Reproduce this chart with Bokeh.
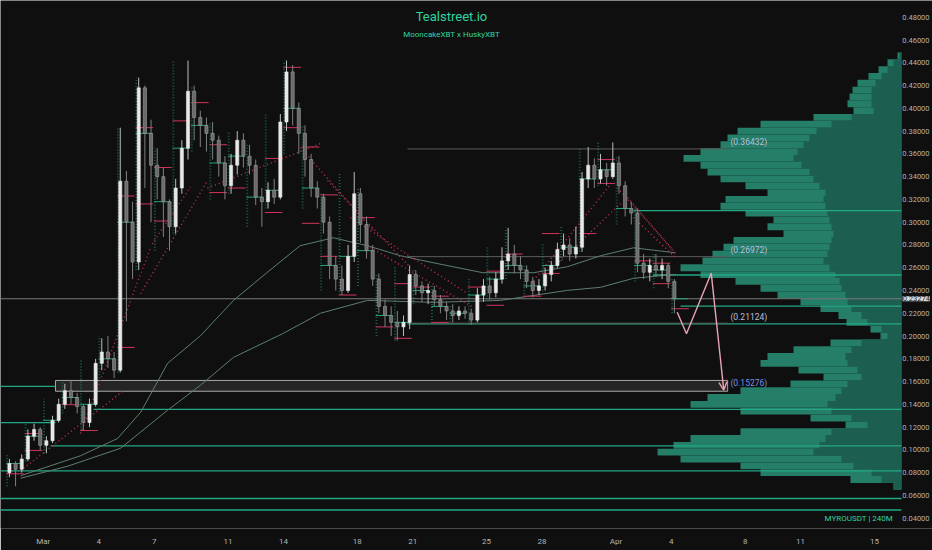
import numpy as np
from bokeh.plotting import figure
from bokeh.models import Range1d, FixedTicker, Label, Arrow, OpenHead
from bokeh.core.properties import value
from bokeh.embed import file_html
from bokeh.resources import INLINE

# ---------------- data ----------------
title_text = "Tealstreet.io"
subtitle_text = "MooncakeXBT x HuskyXBT"
symbol_text = "MYROUSDT | 240M"

x_tick_days = [0, 3, 6, 10, 13, 17, 20, 24, 27, 31, 34, 38, 41, 45]
x_tick_labels = ["Mar", "4", "7", "11", "14", "18", "21", "25", "28", "Apr", "4", "8", "11", "15"]
y_ticks = [0.04, 0.06, 0.08, 0.10, 0.12, 0.14, 0.16, 0.18, 0.20, 0.22, 0.24,
           0.26, 0.28, 0.30, 0.32, 0.34, 0.36, 0.38, 0.40, 0.42, 0.44, 0.46, 0.48]

first_candle_day = -1.8333
candle_step_days = 1.0 / 3.0
first_open = 0.080
close = [0.088, 0.083, 0.092, 0.112, 0.118, 0.104, 0.108, 0.126, 0.140, 0.152,
         0.146, 0.138, 0.124, 0.140, 0.176, 0.186, 0.180, 0.170, 0.336, 0.300,
         0.265, 0.418, 0.378, 0.350, 0.340, 0.318, 0.296, 0.330, 0.365, 0.415,
         0.392, 0.385, 0.378, 0.372, 0.352, 0.332, 0.350, 0.372, 0.358, 0.350,
         0.322, 0.318, 0.328, 0.322, 0.388, 0.432, 0.400, 0.378, 0.355, 0.330,
         0.322, 0.300, 0.262, 0.250, 0.240, 0.270, 0.325, 0.298, 0.275, 0.250,
         0.226, 0.218, 0.212, 0.208, 0.212, 0.254, 0.244, 0.238, 0.240, 0.232,
         0.226, 0.222, 0.218, 0.222, 0.220, 0.214, 0.236, 0.244, 0.238, 0.250,
         0.266, 0.272, 0.262, 0.258, 0.248, 0.240, 0.244, 0.254, 0.262, 0.276,
         0.280, 0.272, 0.278, 0.338, 0.350, 0.338, 0.346, 0.340, 0.352, 0.332,
         0.312, 0.308, 0.264, 0.256, 0.262, 0.258, 0.262, 0.248, 0.23274]
high = [0.092, 0.090, 0.096, 0.118, 0.123, 0.120, 0.112, 0.130, 0.145, 0.158,
        0.161, 0.150, 0.140, 0.145, 0.180, 0.198, 0.200, 0.186, 0.383, 0.345,
        0.318, 0.427, 0.420, 0.390, 0.365, 0.348, 0.320, 0.338, 0.372, 0.442,
        0.420, 0.398, 0.392, 0.388, 0.376, 0.358, 0.360, 0.380, 0.378, 0.368,
        0.355, 0.330, 0.335, 0.338, 0.395, 0.442, 0.438, 0.405, 0.385, 0.360,
        0.336, 0.325, 0.305, 0.270, 0.262, 0.280, 0.344, 0.330, 0.305, 0.280,
        0.255, 0.232, 0.226, 0.222, 0.218, 0.262, 0.258, 0.248, 0.246, 0.244,
        0.236, 0.230, 0.228, 0.226, 0.226, 0.224, 0.242, 0.250, 0.252, 0.256,
        0.278, 0.295, 0.280, 0.270, 0.262, 0.252, 0.250, 0.260, 0.266, 0.282,
        0.290, 0.286, 0.296, 0.344, 0.366, 0.356, 0.360, 0.352, 0.370, 0.358,
        0.336, 0.318, 0.312, 0.272, 0.268, 0.272, 0.268, 0.264, 0.250]
low = [0.076, 0.068, 0.080, 0.090, 0.108, 0.100, 0.097, 0.106, 0.124, 0.136,
       0.140, 0.132, 0.117, 0.120, 0.138, 0.170, 0.172, 0.163, 0.168, 0.213,
       0.250, 0.258, 0.330, 0.300, 0.320, 0.287, 0.275, 0.290, 0.325, 0.355,
       0.372, 0.366, 0.362, 0.355, 0.340, 0.320, 0.325, 0.342, 0.348, 0.342,
       0.315, 0.296, 0.312, 0.316, 0.320, 0.380, 0.385, 0.360, 0.340, 0.322,
       0.312, 0.290, 0.250, 0.240, 0.236, 0.238, 0.265, 0.282, 0.268, 0.244,
       0.220, 0.208, 0.200, 0.196, 0.200, 0.206, 0.236, 0.230, 0.228, 0.226,
       0.220, 0.214, 0.212, 0.214, 0.215, 0.210, 0.212, 0.230, 0.232, 0.234,
       0.246, 0.258, 0.255, 0.250, 0.242, 0.234, 0.236, 0.240, 0.248, 0.260,
       0.270, 0.266, 0.268, 0.274, 0.330, 0.330, 0.334, 0.332, 0.338, 0.325,
       0.305, 0.298, 0.256, 0.250, 0.248, 0.252, 0.250, 0.242, 0.220]
price_now = 0.23274

ema_fast_day = [-1.23, 2.01, 4.02, 5.27, 6.73, 8.51, 10.3, 12.1, 13.9, 15.7,
                17.55, 19.34, 21.1, 23.8, 26.54, 28.38, 30.17, 31.95, 34.23]
ema_fast_val = [0.0773, 0.0948, 0.110, 0.133, 0.176, 0.2003, 0.2313, 0.2556, 0.2793, 0.2863,
                0.2793, 0.2705, 0.2644, 0.2556, 0.2556, 0.2609, 0.2705, 0.2775, 0.2731]
ema_slow_day = [-1.23, 1.31, 4.18, 6.73, 8.51, 10.3, 13.0, 15.0, 17.55, 21.1,
                24.75, 28.38, 30.17, 31.95, 34.23]
ema_slow_val = [0.0751, 0.0856, 0.1014, 0.1348, 0.1568, 0.1813, 0.2024, 0.2200, 0.2313, 0.2296,
                0.2313, 0.2401, 0.2428, 0.2507, 0.2542]

trail_day0 = [-1.23, 2.01, 5.27, 8.89, 5.90, 13.93, 15.39, 16.63, 17.71, 26.54, 27.62, 31.63, 31.95, 31.09]
trail_val0 = [0.0817, 0.1144, 0.2372, 0.330, 0.281, 0.3655, 0.3365, 0.304, 0.2776, 0.2486, 0.2601, 0.3216, 0.304, 0.3303]
trail_day1 = [4.34, 5.81, 8.89, 15.0, 7.97, 17.88, 19.88, 22.97, 23.3, 30.87, 31.25, 34.23, 34.23, 34.12]
trail_val1 = [0.152, 0.2776, 0.3365, 0.369, 0.331, 0.2925, 0.2601, 0.2373, 0.2249, 0.3365, 0.3163, 0.2724, 0.2689, 0.2749]

red_mark_day = [-2, -1, -1, 1, 2, 4, 4, 5, 5, 6, 6, 7, 8, 9, 9, 10, 12, 12, 13, 13, 14, 14,
                15, 15, 16, 17, 18, 19, 19, 20, 21, 21, 23, 24, 24, 25, 26, 27, 27, 29, 30, 30,
                32, 33, 33, 34]
red_mark_val = [0.079, 0.1144, 0.0995, 0.1397, 0.117, 0.323, 0.190, 0.383, 0.316, 0.348, 0.301,
                0.389, 0.405, 0.368, 0.326, 0.330, 0.356, 0.3085, 0.436, 0.383, 0.366, 0.299,
                0.324, 0.270, 0.236, 0.304, 0.208, 0.246, 0.198, 0.243, 0.235, 0.212, 0.243,
                0.257, 0.227, 0.272, 0.235, 0.290, 0.255, 0.290, 0.355, 0.334, 0.266, 0.264,
                0.246, 0.224]

level_teal_val = [0.3101, 0.2536, 0.2262, 0.2106, 0.1355, 0.1036, 0.0815, 0.0573, 0.0472]
level_teal_from = [31.95, 33.0, 34.5, 19.72, 2.72, 0.39, -2.4, -2.4, -2.4]
level_teal_left_val = [0.1557, 0.124]
level_gray_val = [0.36432, 0.26972, 0.21124]
target_val = 0.15276
zone_low, zone_high = 0.1515, 0.1610
zone_from, zone_to = 0.66, 37.05

proj_day = [34.32, 34.82, 36.16, 36.84]
proj_val = [0.2209, 0.2020, 0.2552, 0.1525]

vp_price = [0.446, 0.440, 0.434, 0.428, 0.422, 0.416, 0.410, 0.404, 0.398, 0.392,
            0.386, 0.380, 0.374, 0.368, 0.362, 0.356, 0.350, 0.344, 0.338, 0.332,
            0.326, 0.320, 0.314, 0.308, 0.302, 0.296, 0.290, 0.284, 0.278, 0.272,
            0.266, 0.260, 0.254, 0.248, 0.242, 0.236, 0.230, 0.224, 0.218, 0.212,
            0.206, 0.200, 0.194, 0.188, 0.182, 0.176, 0.170, 0.164, 0.158, 0.152,
            0.146, 0.140, 0.134, 0.128, 0.122, 0.116, 0.110, 0.104, 0.098, 0.092,
            0.086, 0.080, 0.074, 0.068]
vp_total = [4, 14, 23, 33, 44, 49, 52, 54, 48, 88,
            141, 164, 174, 181, 201, 218, 201, 194, 181, 156,
            134, 176, 181, 156, 128, 134, 118, 168, 178, 189,
            199, 221, 201, 166, 141, 124, 101, 81, 63, 55,
            31, 21, 71, 108, 134, 141, 103, 78, 111, 161,
            194, 211, 161, 91, 56, 161, 211, 228, 244, 221,
            161, 141, 51, 8]
vp_inner = [2, 8, 14, 20, 26, 30, 30, 30, 28, 50,
            70, 85, 92, 98, 104, 108, 100, 92, 88, 82,
            76, 78, 76, 74, 72, 70, 68, 70, 72, 74,
            78, 72, 66, 62, 60, 56, 54, 50, 40, 34,
            20, 14, 40, 50, 56, 54, 44, 40, 54, 60,
            66, 74, 70, 50, 34, 70, 76, 82, 88, 60,
            48, 30, 20, 8]

# ---------------- figure ----------------
X0, X1 = -2.317, 48.14          # chart area incl. price scale column
CHART_END = 46.46               # right edge of the plotting pane
SCALE_X = 47.98                 # price-scale labels are right-aligned here
Y0, Y1 = 0.03095, 0.4947
BG = "#0f0f0f"
FONT = "Roboto"

p = figure(width=932, height=550, x_range=Range1d(X0, X1), y_range=Range1d(Y0, Y1),
           output_backend="svg", toolbar_location=None, y_axis_location=None,
           background_fill_color=BG, border_fill_color=BG, outline_line_color=None,
           min_border_left=0, min_border_top=0, min_border_bottom=22, min_border_right=0)
p.grid.visible = False
p.extra_x_ranges = {"vp": Range1d(start=901, end=-31)}

ax = p.xaxis[0]
ax.axis_line_color = None
ax.major_tick_line_color = None
ax.minor_tick_line_color = None
ax.major_tick_out = 0
ax.major_tick_in = 0
ax.minor_tick_out = 0
ax.minor_tick_in = 0
ax.major_label_text_color = "#b4b4b4"
ax.major_label_text_font = FONT
ax.major_label_text_font_size = "8px"
ax.major_label_standoff = 8
ax.ticker = FixedTicker(ticks=x_tick_days)
ax.major_label_overrides = {d: s for d, s in zip(x_tick_days, x_tick_labels)}

# volume profile
p.hbar(y=vp_price, left=0, right=vp_total, height=0.006, x_range_name="vp",
       fill_color="#247e68", line_color=None)
p.hbar(y=vp_price, left=0, right=vp_inner, height=0.006, x_range_name="vp",
       fill_color="#1c5f50", line_color=None)

# zone box
p.quad(left=[zone_from], right=[zone_to], bottom=[zone_low], top=[zone_high],
       fill_color="#2e2e2e", fill_alpha=0.75, line_color="#a8a8a8", line_width=1)

# horizontal levels
XR = CHART_END
p.segment(x0=level_teal_from, x1=[XR] * len(level_teal_val), y0=level_teal_val, y1=level_teal_val,
          line_color="#22a884", line_width=1.3)
p.segment(x0=[-2.4] * 2, x1=[zone_from] * 2, y0=level_teal_left_val, y1=level_teal_left_val,
          line_color="#22a884", line_width=1.3)
p.segment(x0=[19.72] * 3, x1=[zone_to] * 3, y0=level_gray_val, y1=level_gray_val,
          line_color="#5c5c5c", line_width=1)
p.segment(x0=[-2.4], x1=[XR], y0=[price_now], y1=[price_now], line_color="#7a7a7a", line_width=1)

# moving averages
p.line(ema_fast_day, ema_fast_val, line_color="#5e7e71", line_width=1)
p.line(ema_slow_day, ema_slow_val, line_color="#5e7e71", line_width=1)

# red dotted trails
p.segment(x0=trail_day0, y0=trail_val0, x1=trail_day1, y1=trail_val1,
          line_color="#c0304f", line_width=1.5, line_dash="1 3")

# candles
c = np.array(close)
o = np.concatenate([[first_open], c[:-1]])
h = np.array(high)
l = np.array(low)
t = first_candle_day + np.arange(len(c)) * candle_step_days

# daily mini profiles / POC marks
days = np.floor(t + 1e-6).astype(int)
dd, dlo, dhi, dpoc = [], [], [], []
for d in np.unique(days):
    m = days == d
    dd.append(d)
    dlo.append(l[m].min())
    dhi.append(h[m].max())
    dpoc.append(float(np.median(c[m])))
dd = np.array(dd, dtype=float)
p.segment(x0=dd + 0.04, x1=dd + 0.04, y0=dlo, y1=dhi, line_color="#1e9e7c",
          line_width=2, line_dash="1 2", line_alpha=0.55)
p.segment(x0=dd, x1=dd + 0.9, y0=dpoc, y1=dpoc, line_color="#25b38b", line_width=1, line_alpha=0.9)

rd = np.array(red_mark_day, dtype=float)
p.segment(x0=rd, x1=rd + 0.95, y0=red_mark_val, y1=red_mark_val, line_color="#d0345a", line_width=1)

up = c >= o
p.segment(x0=t[up], x1=t[up], y0=h[up], y1=l[up], line_color="#bdbdbd", line_width=1)
p.segment(x0=t[~up], x1=t[~up], y0=h[~up], y1=l[~up], line_color="#808080", line_width=1)
p.vbar(x=t[up], width=0.17, top=c[up], bottom=o[up], fill_color="#e8e8e8", line_color="#e8e8e8", line_width=0.6)
p.vbar(x=t[~up], width=0.17, top=o[~up], bottom=c[~up], fill_color="#6a6a6a", line_color="#a0a0a0", line_width=0.6)

# projection
PINK = "#e9a3b4"
p.line(proj_day[:3], proj_val[:3], line_color=PINK, line_width=1.4)
p.add_layout(Arrow(x_start=proj_day[2], y_start=proj_val[2], x_end=proj_day[3], y_end=proj_val[3],
                   line_color=PINK, line_width=1.4,
                   end=OpenHead(size=8, line_color=PINK, line_width=1.4)))

# level labels
for v in level_gray_val:
    p.add_layout(Label(x=37.2, y=v + 0.0058, text="(%.5f)" % v, text_font=FONT, text_font_size="8.5px",
                       text_color="#b9bfdc", text_baseline="middle", text_align="left"))
p.add_layout(Label(x=37.2, y=target_val + 0.0058, text="(%.5f)" % target_val, text_font=FONT,
                   text_font_size="8.5px", text_color="#7b8fe0", text_baseline="middle", text_align="left"))

# price scale (right)
p.text(x=[SCALE_X] * len(y_ticks), y=y_ticks, text=["%.5f" % v for v in y_ticks],
       text_font=value(FONT), text_font_size="7.5px", text_color="#b4b4b4",
       text_align="right", text_baseline="middle")

# titles
p.add_layout(Label(x=22.1, y=0.4807, text=title_text, text_font=FONT, text_font_size="13px",
                   text_color="#2fd4a2", text_baseline="middle", text_align="center"))
p.add_layout(Label(x=22.1, y=0.4648, text=subtitle_text, text_font=FONT, text_font_size="8px",
                   text_color="#2fd4a2", text_baseline="middle", text_align="center"))
p.add_layout(Label(x=46.0, y=0.0398, text=symbol_text, text_font=FONT, text_font_size="8px",
                   text_color="#2fd4a2", text_baseline="middle", text_align="right"))

# last price tag
p.add_layout(Label(x=SCALE_X + 0.02, y=price_now, text="%.5f" % price_now, text_font=FONT,
                   text_font_size="7.5px", text_color="#1a1a1a", text_baseline="middle",
                   text_align="right", background_fill_color="#dcdcdc"))

open("out.html", "w").write(file_html(p, INLINE))
